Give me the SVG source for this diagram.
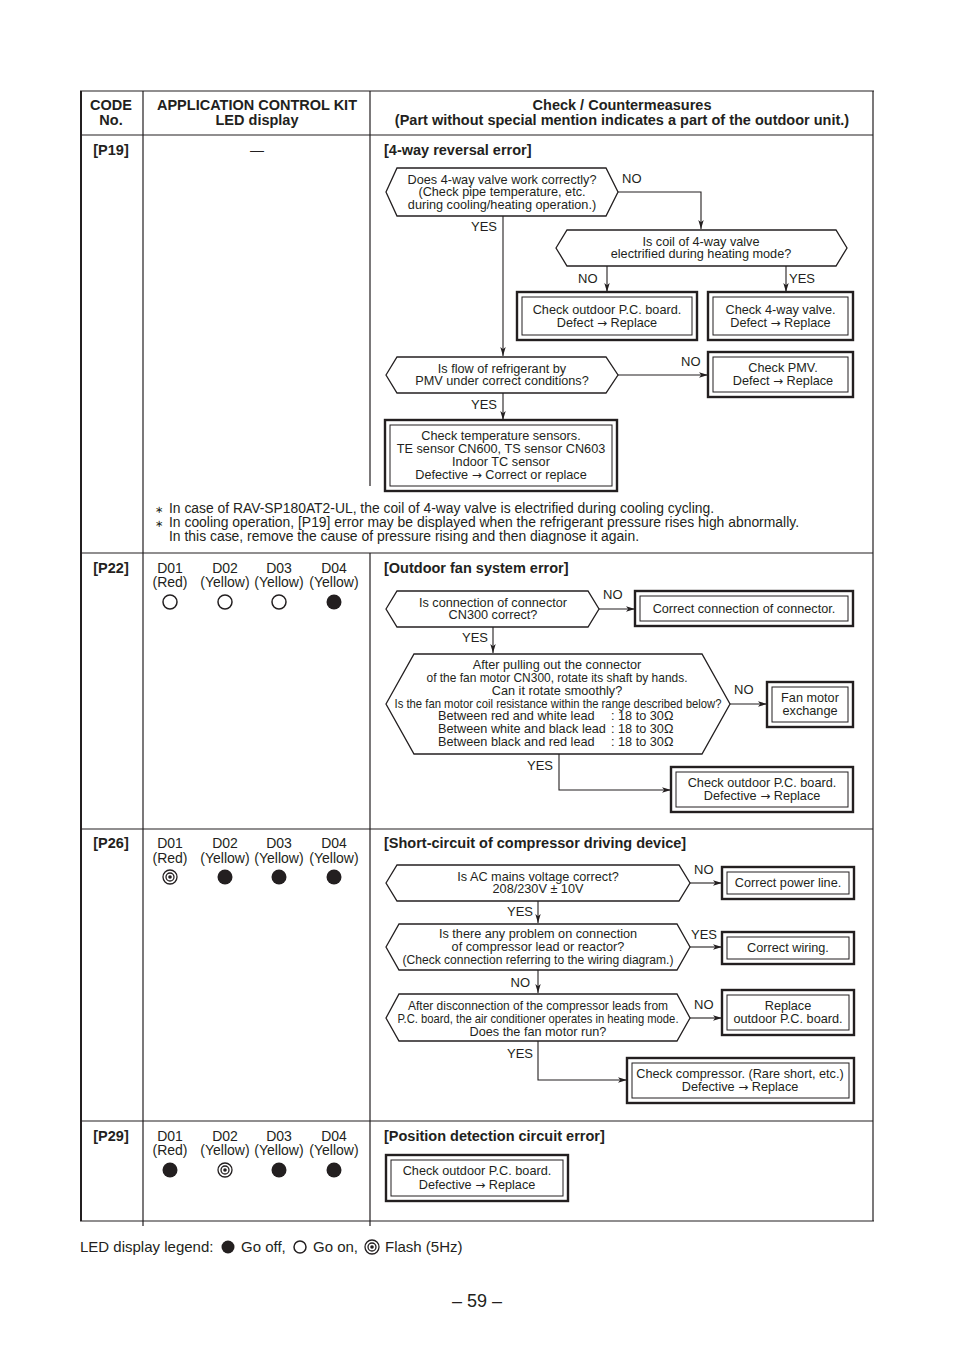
<svg xmlns="http://www.w3.org/2000/svg" width="954" height="1348" viewBox="0 0 954 1348">
<defs>
<style>
text{font-family:"Liberation Sans",Arial,Helvetica,sans-serif;fill:#231f20}
.t{font-size:12.7px;text-anchor:middle}
.tl{font-size:12.7px}
.lb{font-size:13px}
.le{font-size:13px;text-anchor:end}
.h{font-size:14.5px;font-weight:bold;text-anchor:middle}
.hl{font-size:14.5px;font-weight:bold}
.n{font-size:14px}
.d{font-size:14px;text-anchor:middle}
.g{font-size:15px}
.ar{font-family:"DejaVu Sans",sans-serif;font-size:12px}
.tb{stroke:#231f20;fill:none;stroke-width:1.2}
.hx{fill:#fff;stroke:#231f20;stroke-width:1.3}
.bo{fill:#fff;stroke:#231f20;stroke-width:2.4}
.bi{fill:none;stroke:#231f20;stroke-width:1}
.cn{fill:none;stroke:#231f20;stroke-width:1.1;marker-end:url(#ah)}
.on{fill:#fff;stroke:#231f20;stroke-width:1.5}
.off{fill:#231f20}
.fr{fill:none;stroke:#231f20;stroke-width:1.3}
</style>
<marker id="ah" viewBox="0 0 10 6" markerWidth="9" markerHeight="6" markerUnits="userSpaceOnUse" refX="10" refY="3" orient="auto">
<path d="M0,0 L10,3 L0,6 L2.5,3 Z" fill="#231f20"/>
</marker>
<g id="flash"><circle r="7" class="fr"/><circle r="4" class="fr"/><circle r="1.8" class="off"/></g>
</defs>
<rect width="954" height="1348" fill="#fff"/>

<!-- table grid -->
<g id="table">
<line x1="81" y1="91" x2="81" y2="1221" stroke="#231f20" stroke-width="2"/>
<line x1="80" y1="91" x2="874" y2="91" class="tb"/>
<line x1="873" y1="91" x2="873" y2="1221" class="tb"/>
<line x1="80" y1="1221" x2="874" y2="1221" class="tb"/>
<line x1="143" y1="91" x2="143" y2="1226" class="tb"/>
<line x1="370" y1="91" x2="370" y2="486" class="tb"/>
<line x1="370" y1="553" x2="370" y2="1226" class="tb"/>
<line x1="81" y1="135" x2="873" y2="135" class="tb"/>
<line x1="81" y1="553" x2="873" y2="553" class="tb"/>
<line x1="81" y1="829" x2="873" y2="829" class="tb"/>
<line x1="81" y1="1121" x2="873" y2="1121" class="tb"/>
<text class="h" x="111" y="110">CODE</text>
<text class="h" x="111" y="125">No.</text>
<text class="h" x="257" y="110">APPLICATION CONTROL KIT</text>
<text class="h" x="257" y="125">LED display</text>
<text class="h" x="622" y="110">Check / Countermeasures</text>
<text class="h" x="622" y="125">(Part without special mention indicates a part of the outdoor unit.)</text>
</g>

<!-- row labels -->
<g id="p19-head">
<text class="h" x="111" y="155">[P19]</text>
<text class="d" x="257" y="155">—</text>
<text class="hl" x="384" y="155">[4-way reversal error]</text>
</g>
<g id="p22-head">
<text class="h" x="111" y="573">[P22]</text>
<text class="hl" x="384" y="573">[Outdoor fan system error]</text>
<text class="d" x="170" y="573">D01</text><text class="d" x="170" y="587">(Red)</text>
<text class="d" x="225" y="573">D02</text><text class="d" x="225" y="587">(Yellow)</text>
<text class="d" x="279" y="573">D03</text><text class="d" x="279" y="587">(Yellow)</text>
<text class="d" x="334" y="573">D04</text><text class="d" x="334" y="587">(Yellow)</text>
<circle cx="170" cy="602" r="7" class="on"/>
<circle cx="225" cy="602" r="7" class="on"/>
<circle cx="279" cy="602" r="7" class="on"/>
<circle cx="334" cy="602" r="7.5" class="off"/>
</g>
<g id="p26-head">
<text class="h" x="111" y="848">[P26]</text>
<text class="hl" x="384" y="848">[Short-circuit of compressor driving device]</text>
<text class="d" x="170" y="848">D01</text><text class="d" x="170" y="863">(Red)</text>
<text class="d" x="225" y="848">D02</text><text class="d" x="225" y="863">(Yellow)</text>
<text class="d" x="279" y="848">D03</text><text class="d" x="279" y="863">(Yellow)</text>
<text class="d" x="334" y="848">D04</text><text class="d" x="334" y="863">(Yellow)</text>
<use href="#flash" x="170" y="877"/>
<circle cx="225" cy="877" r="7.5" class="off"/>
<circle cx="279" cy="877" r="7.5" class="off"/>
<circle cx="334" cy="877" r="7.5" class="off"/>
</g>
<g id="p29-head">
<text class="h" x="111" y="1141">[P29]</text>
<text class="hl" x="384" y="1141">[Position detection circuit error]</text>
<text class="d" x="170" y="1141">D01</text><text class="d" x="170" y="1155">(Red)</text>
<text class="d" x="225" y="1141">D02</text><text class="d" x="225" y="1155">(Yellow)</text>
<text class="d" x="279" y="1141">D03</text><text class="d" x="279" y="1155">(Yellow)</text>
<text class="d" x="334" y="1141">D04</text><text class="d" x="334" y="1155">(Yellow)</text>
<circle cx="170" cy="1170" r="7.5" class="off"/>
<use href="#flash" x="225" y="1170"/>
<circle cx="279" cy="1170" r="7.5" class="off"/>
<circle cx="334" cy="1170" r="7.5" class="off"/>
</g>

<!-- connectors -->
<g id="connectors">
<path class="cn" d="M618,192 H701 V229"/>
<path class="cn" d="M503,216 V356"/>
<path class="cn" d="M607,266 V292"/>
<path class="cn" d="M786,266 V292"/>
<path class="cn" d="M618,375 H708"/>
<path class="cn" d="M503,393 V420"/>
<path class="cn" d="M599,609 H635"/>
<path class="cn" d="M493,627 V653"/>
<path class="cn" d="M730,704 H767"/>
<path class="cn" d="M559,754 V790 H671"/>
<path class="cn" d="M690,883 H722"/>
<path class="cn" d="M538,901 V923"/>
<path class="cn" d="M690,947 H722"/>
<path class="cn" d="M538,970 V993"/>
<path class="cn" d="M690,1018 H722"/>
<path class="cn" d="M538,1041 V1080 H627"/>
<text class="lb" x="622" y="183">NO</text>
<text class="le" x="497" y="231">YES</text>
<text class="lb" x="578" y="283">NO</text>
<text class="lb" x="789" y="283">YES</text>
<text class="lb" x="681" y="366">NO</text>
<text class="le" x="497" y="409">YES</text>
<text class="lb" x="603" y="599">NO</text>
<text class="le" x="488" y="642">YES</text>
<text class="lb" x="734" y="694">NO</text>
<text class="le" x="553" y="770">YES</text>
<text class="lb" x="694" y="874">NO</text>
<text class="le" x="533" y="916">YES</text>
<text class="lb" x="691" y="939">YES</text>
<text class="le" x="530" y="987">NO</text>
<text class="lb" x="694" y="1009">NO</text>
<text class="le" x="533" y="1058">YES</text>
</g>

<!-- P19 nodes -->
<g id="p19-q1">
<path class="hx" d="M386,192 L397,168 L606,168 L618,192 L606,216 L397,216 Z"/>
<text class="t" x="502" y="184">Does 4-way valve work correctly?</text>
<text class="t" x="502" y="196">(Check pipe temperature, etc.</text>
<text class="t" x="502" y="209">during cooling/heating operation.)</text>
</g>
<g id="p19-q2">
<path class="hx" d="M556,248 L567,230 L836,230 L847,248 L836,266 L567,266 Z"/>
<text class="t" x="701" y="246">Is coil of 4-way valve</text>
<text class="t" x="701" y="258">electrified during heating mode?</text>
</g>
<g id="p19-b1">
<rect class="bo" x="517" y="292" width="180" height="48"/>
<rect class="bi" x="522" y="297" width="170" height="38"/>
<text class="t" x="607" y="314">Check outdoor P.C. board.</text>
<text class="t" x="607" y="327">Defect <tspan class="ar">→</tspan> Replace</text>
</g>
<g id="p19-b2">
<rect class="bo" x="708" y="292" width="145" height="48"/>
<rect class="bi" x="713" y="297" width="135" height="38"/>
<text class="t" x="780.5" y="314">Check 4-way valve.</text>
<text class="t" x="780.5" y="327">Defect <tspan class="ar">→</tspan> Replace</text>
</g>
<g id="p19-q3">
<path class="hx" d="M386,375 L397,357 L606,357 L618,375 L606,393 L397,393 Z"/>
<text class="t" x="502" y="373">Is flow of refrigerant by</text>
<text class="t" x="502" y="385">PMV under correct conditions?</text>
</g>
<g id="p19-b3">
<rect class="bo" x="708" y="352" width="145" height="45"/>
<rect class="bi" x="713" y="357" width="135" height="35"/>
<text class="t" x="783" y="372">Check PMV.</text>
<text class="t" x="783" y="385">Defect <tspan class="ar">→</tspan> Replace</text>
</g>
<g id="p19-b4">
<rect class="bo" x="385" y="420" width="232" height="71"/>
<rect class="bi" x="390" y="425" width="222" height="61"/>
<text class="t" x="501" y="440">Check temperature sensors.</text>
<text class="t" x="501" y="453">TE sensor CN600, TS sensor CN603</text>
<text class="t" x="501" y="466">Indoor TC sensor</text>
<text class="t" x="501" y="479">Defective <tspan class="ar">→</tspan> Correct or replace</text>
</g>
<g id="p19-notes">
<text x="155" y="513" font-size="10">∗</text>
<text class="n" x="169" y="513" textLength="545" lengthAdjust="spacingAndGlyphs">In case of RAV-SP180AT2-UL, the coil of 4-way valve is electrified during cooling cycling.</text>
<text x="155" y="527" font-size="10">∗</text>
<text class="n" x="169" y="527" textLength="630" lengthAdjust="spacingAndGlyphs">In cooling operation, [P19] error may be displayed when the refrigerant pressure rises high abnormally.</text>
<text class="n" x="169" y="541" textLength="470" lengthAdjust="spacingAndGlyphs">In this case, remove the cause of pressure rising and then diagnose it again.</text>
</g>

<!-- P22 nodes -->
<g id="p22-q1">
<path class="hx" d="M386,609 L397,591 L588,591 L599,609 L588,627 L397,627 Z"/>
<text class="t" x="493" y="607">Is connection of connector</text>
<text class="t" x="493" y="619">CN300 correct?</text>
</g>
<g id="p22-b1">
<rect class="bo" x="635" y="591" width="218" height="35"/>
<rect class="bi" x="640" y="596" width="208" height="25"/>
<text class="t" x="744" y="613">Correct connection of connector.</text>
</g>
<g id="p22-q2">
<path class="hx" d="M386,704 L414,654 L702,654 L730,704 L702,754 L414,754 Z"/>
<text class="t" x="557" y="669">After pulling out the connector</text>
<text class="t" x="557" y="682" textLength="261" lengthAdjust="spacingAndGlyphs">of the fan motor CN300, rotate its shaft by hands.</text>
<text class="t" x="557" y="695">Can it rotate smoothly?</text>
<text class="t" x="558" y="708" textLength="327" lengthAdjust="spacingAndGlyphs">Is the fan motor coil resistance within the range described below?</text>
<text class="tl" x="438" y="720">Between red and white lead</text><text class="tl" x="611" y="720">: 18 to 30Ω</text>
<text class="tl" x="438" y="733">Between white and black lead</text><text class="tl" x="611" y="733">: 18 to 30Ω</text>
<text class="tl" x="438" y="746">Between black and red lead</text><text class="tl" x="611" y="746">: 18 to 30Ω</text>
</g>
<g id="p22-b2">
<rect class="bo" x="767" y="682" width="86" height="45"/>
<rect class="bi" x="772" y="687" width="76" height="35"/>
<text class="t" x="810" y="702">Fan motor</text>
<text class="t" x="810" y="715">exchange</text>
</g>
<g id="p22-b3">
<rect class="bo" x="671" y="767" width="182" height="45"/>
<rect class="bi" x="676" y="772" width="172" height="35"/>
<text class="t" x="762" y="787">Check outdoor P.C. board.</text>
<text class="t" x="762" y="800">Defective <tspan class="ar">→</tspan> Replace</text>
</g>

<!-- P26 nodes -->
<g id="p26-q1">
<path class="hx" d="M386,883 L397,865 L679,865 L690,883 L679,901 L397,901 Z"/>
<text class="t" x="538" y="881">Is AC mains voltage correct?</text>
<text class="t" x="538" y="893">208/230V ± 10V</text>
</g>
<g id="p26-b1">
<rect class="bo" x="722" y="867" width="132" height="32"/>
<rect class="bi" x="727" y="872" width="122" height="22"/>
<text class="t" x="788" y="887">Correct power line.</text>
</g>
<g id="p26-q2">
<path class="hx" d="M386,947 L399,924 L677,924 L690,947 L677,970 L399,970 Z"/>
<text class="t" x="538" y="938">Is there any problem on connection</text>
<text class="t" x="538" y="951">of compressor lead or reactor?</text>
<text class="t" x="538" y="964" textLength="271" lengthAdjust="spacingAndGlyphs">(Check connection referring to the wiring diagram.)</text>
</g>
<g id="p26-b2">
<rect class="bo" x="722" y="932" width="132" height="32"/>
<rect class="bi" x="727" y="937" width="122" height="22"/>
<text class="t" x="788" y="952">Correct wiring.</text>
</g>
<g id="p26-q3">
<path class="hx" d="M386,1018 L399,994 L677,994 L690,1018 L677,1041 L399,1041 Z"/>
<text class="t" x="538" y="1010" textLength="260" lengthAdjust="spacingAndGlyphs">After disconnection of the compressor leads from</text>
<text class="t" x="538" y="1023" textLength="281" lengthAdjust="spacingAndGlyphs">P.C. board, the air conditioner operates in heating mode.</text>
<text class="t" x="538" y="1036">Does the fan motor run?</text>
</g>
<g id="p26-b3">
<rect class="bo" x="722" y="990" width="132" height="45"/>
<rect class="bi" x="727" y="995" width="122" height="35"/>
<text class="t" x="788" y="1010">Replace</text>
<text class="t" x="788" y="1023">outdoor P.C. board.</text>
</g>
<g id="p26-b4">
<rect class="bo" x="627" y="1058" width="227" height="45"/>
<rect class="bi" x="632" y="1063" width="217" height="35"/>
<text class="t" x="740" y="1078">Check compressor. (Rare short, etc.)</text>
<text class="t" x="740" y="1091">Defective <tspan class="ar">→</tspan> Replace</text>
</g>

<!-- P29 node -->
<g id="p29-b1">
<rect class="bo" x="386" y="1155" width="182" height="46"/>
<rect class="bi" x="391" y="1160" width="172" height="36"/>
<text class="t" x="477" y="1175">Check outdoor P.C. board.</text>
<text class="t" x="477" y="1189">Defective <tspan class="ar">→</tspan> Replace</text>
</g>

<!-- legend -->
<g id="legend">
<text class="g" x="80" y="1252">LED display legend:</text>
<circle cx="228" cy="1247" r="6.5" class="off"/>
<text class="g" x="241" y="1252">Go off,</text>
<circle cx="300" cy="1247" r="6" class="on"/>
<text class="g" x="313" y="1252">Go on,</text>
<use href="#flash" x="372" y="1247"/>
<text class="g" x="385" y="1252">Flash (5Hz)</text>
</g>
<text x="477" y="1307" font-size="18" text-anchor="middle">– 59 –</text>
</svg>
